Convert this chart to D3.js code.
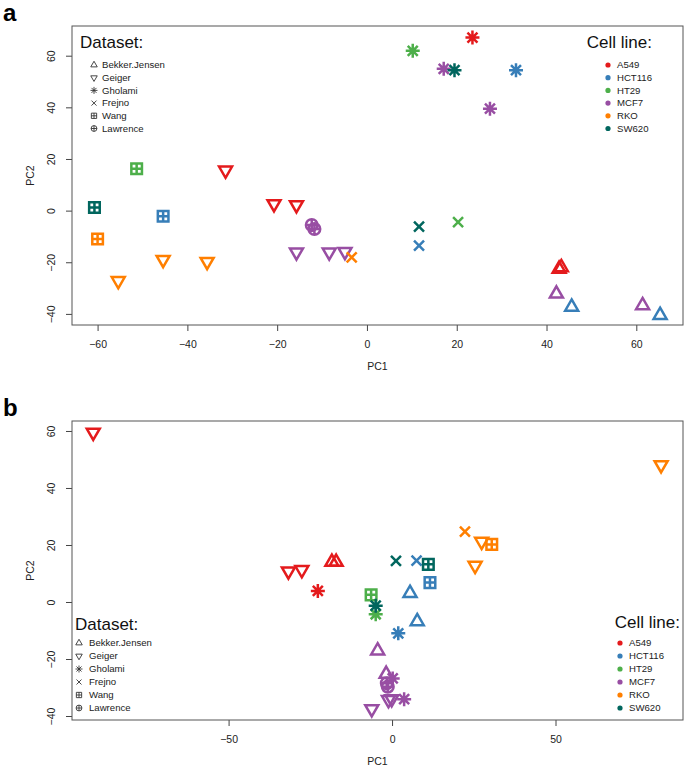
<!DOCTYPE html>
<html>
<head>
<meta charset="utf-8">
<script src="https://cdn.jsdelivr.net/npm/d3@7"></script>
<style>
  body { margin: 0; background: #fff; }
  svg { display: block; font-family: "Liberation Sans", Arial, Helvetica, sans-serif; }
</style>
</head>
<body>
<svg id="chart" width="685" height="771"></svg>
<script>
// categories
const datasets = ["Bekker.Jensen", "Geiger", "Gholami", "Frejno", "Wang", "Lawrence"];
const cellLines = ["A549", "HCT116", "HT29", "MCF7", "RKO", "SW620"];

// panel a: [dataset, cell line, PC1, PC2]
const pointsA = [
  ["Bekker.Jensen", "A549", 42.8, -22.6],
  ["Bekker.Jensen", "A549", 43.3, -22.0],
  ["Bekker.Jensen", "MCF7", 42.2, -32.2],
  ["Bekker.Jensen", "HCT116", 45.6, -37.3],
  ["Bekker.Jensen", "MCF7", 61.4, -36.7],
  ["Bekker.Jensen", "HCT116", 65.3, -40.5],
  ["Geiger", "A549", -31.5, 15.6],
  ["Geiger", "A549", -20.7, 2.6],
  ["Geiger", "A549", -15.7, 2.2],
  ["Geiger", "RKO", -55.4, -27.2],
  ["Geiger", "RKO", -45.4, -19.0],
  ["Geiger", "RKO", -35.6, -19.8],
  ["Geiger", "MCF7", -15.7, -16.1],
  ["Geiger", "MCF7", -8.4, -16.1],
  ["Geiger", "MCF7", -4.9, -15.9],
  ["Gholami", "A549", 23.5, 67.0],
  ["Gholami", "HT29", 10.2, 61.9],
  ["Gholami", "MCF7", 17.1, 54.9],
  ["Gholami", "SW620", 19.5, 54.4],
  ["Gholami", "HCT116", 33.2, 54.4],
  ["Gholami", "MCF7", 27.4, 39.5],
  ["Frejno", "RKO", -3.4, -18.1],
  ["Frejno", "SW620", 11.6, -6.2],
  ["Frejno", "HCT116", 11.6, -13.6],
  ["Frejno", "HT29", 20.3, -4.5],
  ["Wang", "HT29", -51.3, 16.2],
  ["Wang", "SW620", -60.7, 1.2],
  ["Wang", "HCT116", -45.4, -2.2],
  ["Wang", "RKO", -60.0, -11.0],
  ["Lawrence", "MCF7", -12.3, -5.6],
  ["Lawrence", "MCF7", -11.7, -7.1]
];

// panel b: [dataset, cell line, PC1, PC2]
const pointsB = [
  ["Geiger", "A549", -91.4, 59.5],
  ["Geiger", "A549", -31.7, 10.8],
  ["Geiger", "A549", -27.6, 11.3],
  ["Bekker.Jensen", "A549", -18.4, 14.0],
  ["Bekker.Jensen", "A549", -17.1, 14.0],
  ["Gholami", "A549", -22.7, 3.9],
  ["Wang", "HT29", -6.4, 2.5],
  ["Gholami", "HT29", -5.0, -4.3],
  ["Gholami", "SW620", -5.0, -1.3],
  ["Frejno", "SW620", 1.2, 14.4],
  ["Frejno", "HCT116", 7.5, 14.5],
  ["Wang", "SW620", 11.1, 13.2],
  ["Wang", "HCT116", 11.6, 6.8],
  ["Bekker.Jensen", "HCT116", 5.5, 3.1],
  ["Bekker.Jensen", "HCT116", 7.7, -6.8],
  ["Gholami", "HCT116", 1.9, -11.0],
  ["Bekker.Jensen", "MCF7", -4.4, -17.1],
  ["Bekker.Jensen", "MCF7", -1.8, -25.3],
  ["Gholami", "MCF7", 0.2, -26.8],
  ["Lawrence", "MCF7", -1.6, -28.5],
  ["Lawrence", "MCF7", -1.3, -29.7],
  ["Geiger", "MCF7", -1.1, -34.3],
  ["Geiger", "MCF7", -0.1, -34.0],
  ["Gholami", "MCF7", 3.7, -34.1],
  ["Geiger", "MCF7", -6.2, -37.5],
  ["Frejno", "RKO", 22.3, 24.7],
  ["Geiger", "RKO", 27.4, 21.2],
  ["Wang", "RKO", 30.5, 20.2],
  ["Geiger", "RKO", 25.4, 12.8],
  ["Geiger", "RKO", 82.3, 48.1]
];

// axis ticks
const ticksAx = [-60, -40, -20, 0, 20, 40, 60];
const ticksAy = [-40, -20, 0, 20, 40, 60];
const ticksBx = [-50, 0, 50];
const ticksBy = [-40, -20, 0, 20, 40, 60];

const colors = d3.scaleOrdinal()
  .domain(cellLines)
  .range(["#e41a1c", "#377eb8", "#4daf4a", "#984ea3", "#ff7f00", "#01665e"]);

// R-like pch symbols, centred on the point
function symbolPath(name, k) {
  const p = d3.path();
  const h = 6.5 * k;
  if (name === "Bekker.Jensen") {
    p.moveTo(0, -7.5 * k); p.lineTo(h, 3.75 * k); p.lineTo(-h, 3.75 * k); p.closePath();
  } else if (name === "Geiger") {
    p.moveTo(0, 7.5 * k); p.lineTo(h, -3.75 * k); p.lineTo(-h, -3.75 * k); p.closePath();
  } else if (name === "Gholami") {
    p.moveTo(-7 * k, 0); p.lineTo(7 * k, 0);
    p.moveTo(0, -7 * k); p.lineTo(0, 7 * k);
    p.moveTo(-5 * k, -5 * k); p.lineTo(5 * k, 5 * k);
    p.moveTo(-5 * k, 5 * k); p.lineTo(5 * k, -5 * k);
  } else if (name === "Frejno") {
    p.moveTo(-5 * k, -5 * k); p.lineTo(5 * k, 5 * k);
    p.moveTo(-5 * k, 5 * k); p.lineTo(5 * k, -5 * k);
  } else if (name === "Wang") {
    const s = 5.3 * k;
    p.rect(-s, -s, 2 * s, 2 * s);
    p.moveTo(-s, 0); p.lineTo(s, 0);
    p.moveTo(0, -s); p.lineTo(0, s);
  } else if (name === "Lawrence") {
    const r = 5.8 * k;
    p.moveTo(r, 0); p.arc(0, 0, r, 0, 2 * Math.PI);
    p.moveTo(-r, 0); p.lineTo(r, 0);
    p.moveTo(0, -r); p.lineTo(0, r);
  }
  return p.toString();
}

const svg = d3.select("#chart");
const fmt = d => (d < 0 ? "\u2212" + Math.abs(d) : String(d));

function drawPanel(cfg) {
  const x = d3.scaleLinear().domain(cfg.xDomain).range([cfg.left, cfg.right]);
  const y = d3.scaleLinear().domain(cfg.yDomain).range([cfg.bottom, cfg.top]);
  const g = svg.append("g");

  // x axis
  const xAxis = g.append("g")
    .attr("transform", `translate(0,${cfg.bottom})`)
    .call(d3.axisBottom(x).tickValues(cfg.xTicks).tickSize(6).tickPadding(10).tickFormat(fmt));
  xAxis.select(".domain").remove();
  xAxis.selectAll("line").attr("stroke", "#444");
  xAxis.selectAll("text").attr("font-size", 10.5).attr("fill", "#222").attr("font-family", null);

  // y axis with rotated labels
  const yAxis = g.append("g")
    .attr("transform", `translate(${cfg.left},0)`)
    .call(d3.axisLeft(y).tickValues(cfg.yTicks).tickSize(6).tickFormat(fmt));
  yAxis.select(".domain").remove();
  yAxis.selectAll("line").attr("stroke", "#444");
  yAxis.selectAll("text")
    .attr("x", null).attr("dy", null)
    .attr("transform", "translate(-17,0) rotate(-90)")
    .attr("text-anchor", "middle")
    .attr("font-size", 10.5).attr("fill", "#222").attr("font-family", null);

  // box
  g.append("rect")
    .attr("x", cfg.left).attr("y", cfg.top)
    .attr("width", cfg.right - cfg.left).attr("height", cfg.bottom - cfg.top)
    .attr("fill", "none").attr("stroke", "#555").attr("stroke-width", 1);

  g.append("text").attr("x", (cfg.left + cfg.right) / 2).attr("y", cfg.bottom + 45)
    .attr("text-anchor", "middle").attr("font-size", 10.5).attr("fill", "#222").text("PC1");
  g.append("text")
    .attr("transform", `translate(34,${(cfg.top + cfg.bottom) / 2}) rotate(-90)`)
    .attr("text-anchor", "middle").attr("font-size", 10.5).attr("fill", "#222").text("PC2");

  g.append("text").attr("x", 3).attr("y", cfg.labelY)
    .attr("font-size", 24).attr("font-weight", "bold").text(cfg.label);

  // points
  g.append("g").selectAll("path")
    .data(cfg.points)
    .join("path")
    .attr("transform", d => `translate(${x(d[2])},${y(d[3])})`)
    .attr("d", d => symbolPath(d[0], 1))
    .attr("fill", "none")
    .attr("stroke", d => colors(d[1]))
    .attr("stroke-width", 2.5)
    .attr("stroke-linejoin", "miter");

  // dataset legend
  const dl = g.append("g");
  dl.append("text").attr("x", cfg.dsX).attr("y", cfg.dsTitleY)
    .attr("font-size", 17).attr("fill", "#111").text("Dataset:");
  const di = dl.selectAll("g.item").data(datasets).join("g")
    .attr("class", "item")
    .attr("transform", (d, i) => `translate(${cfg.dsX},${cfg.dsItemY + i * cfg.step})`);
  di.append("path")
    .attr("transform", `translate(${cfg.dsSym},0)`)
    .attr("d", d => symbolPath(d, 0.5))
    .attr("fill", "none").attr("stroke", "#333").attr("stroke-width", 0.9);
  di.append("text").attr("x", cfg.dsText).attr("dy", "0.35em")
    .attr("font-size", 9.6).attr("fill", "#222").text(d => d);

  // cell line legend
  const cl = g.append("g");
  cl.append("text").attr("x", cfg.clTitleRight).attr("y", cfg.clTitleY)
    .attr("text-anchor", "end").attr("font-size", 17).attr("fill", "#111").text("Cell line:");
  const ci = cl.selectAll("g.item").data(cellLines).join("g")
    .attr("class", "item")
    .attr("transform", (d, i) => `translate(${cfg.clDot},${cfg.dsItemY + i * cfg.step})`);
  ci.append("circle").attr("r", 2.6).attr("fill", d => colors(d));
  ci.append("text").attr("x", 9).attr("dy", "0.35em")
    .attr("font-size", 9.6).attr("fill", "#222").text(d => d);
}

drawPanel({
  label: "a", labelY: 21,
  left: 72, right: 683, top: 26, bottom: 325,
  xDomain: [-65.7, 70.4], yDomain: [-44.3, 71.5],
  xTicks: ticksAx, yTicks: ticksAy,
  points: pointsA,
  dsX: 80, dsTitleY: 48, dsItemY: 65, step: 12.7, dsSym: 14, dsText: 22,
  clTitleRight: 652, clTitleY: 48, clDot: 608
});

drawPanel({
  label: "b", labelY: 416,
  left: 72, right: 683, top: 421, bottom: 720,
  xDomain: [-97.9, 89], yDomain: [-41.4, 63.5],
  xTicks: ticksBx, yTicks: ticksBy,
  points: pointsB,
  dsX: 75, dsTitleY: 630, dsItemY: 643, step: 13, dsSym: 4, dsText: 14,
  clTitleRight: 680, clTitleY: 628, clDot: 620
});
</script>
</body>
</html>
